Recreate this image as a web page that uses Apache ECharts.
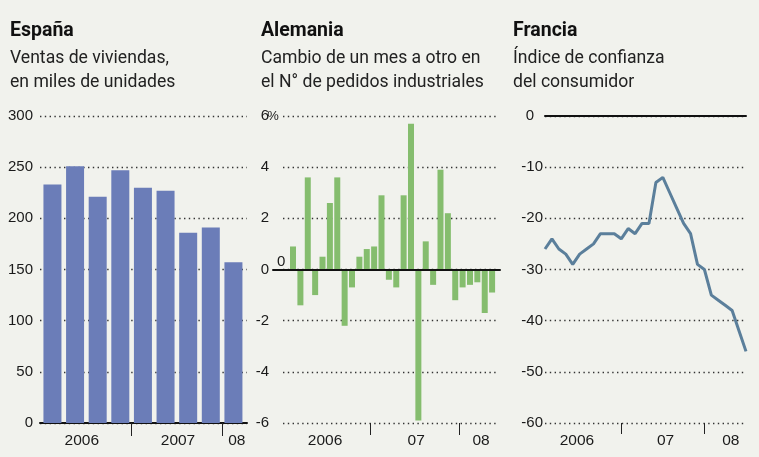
<!DOCTYPE html>
<html>
<head>
<meta charset="utf-8">
<script src="https://cdn.jsdelivr.net/npm/echarts@6/dist/echarts.min.js"></script>
<style>
  html, body { margin: 0; padding: 0; background: #f1f2ed; }
  #chart { width: 759px; height: 457px; }
</style>
</head>
<body>
<div id="chart"></div>
<script>
// España: ventas de viviendas por trimestre (miles)
const trimestres = ['2006-T1', '2006-T2', '2006-T3', '2006-T4', '2007-T1', '2007-T2', '2007-T3', '2007-T4', '2008-T1']
const ventasEspana = [233, 251, 221, 247, 230, 227, 186, 191, 157]

// Alemania: cambio mensual en pedidos industriales (%), feb 2006 - may 2008
const mesesAlemania = [
  '2006-02', '2006-03', '2006-04', '2006-05', '2006-06', '2006-07', '2006-08', '2006-09', '2006-10', '2006-11', '2006-12',
  '2007-01', '2007-02', '2007-03', '2007-04', '2007-05', '2007-06', '2007-07', '2007-08', '2007-09', '2007-10', '2007-11', '2007-12',
  '2008-01', '2008-02', '2008-03', '2008-04', '2008-05'
]
const pedidosAlemania = [0.9, -1.4, 3.6, -1.0, 0.5, 2.6, 3.6, -2.2, -0.7, 0.5, 0.8, 0.9, 2.9, -0.4, -0.7, 2.9, 5.7, -5.9, 1.1, -0.6, 3.9, 2.2, -1.2, -0.7, -0.6, -0.5, -1.7, -0.9]

// Francia: índice de confianza del consumidor, feb 2006 - jul 2008
const mesesFrancia = [
  '2006-02', '2006-03', '2006-04', '2006-05', '2006-06', '2006-07', '2006-08', '2006-09', '2006-10', '2006-11', '2006-12',
  '2007-01', '2007-02', '2007-03', '2007-04', '2007-05', '2007-06', '2007-07', '2007-08', '2007-09', '2007-10', '2007-11', '2007-12',
  '2008-01', '2008-02', '2008-03', '2008-04', '2008-05', '2008-06', '2008-07'
]
const confianzaFrancia = [-26, -24, -26, -27, -29, -27, -26, -25, -23, -23, -23, -24, -22, -23, -21, -21, -13, -12, -15, -18, -21, -23, -29, -30, -35, -36, -37, -38, -42, -46]

// etiquetas de años en el eje x
const etiquetasEspana = ['2006', '2007', '08']
const etiquetasAlemania = ['2006', '07', '08']
const etiquetasFrancia = ['2006', '07', '08']

const NUM = "'Liberation Sans', Arial, sans-serif"
const TEXTO = "Roboto, 'Noto Sans', sans-serif"
const INK = '#1a1a1a'

const dotted = { lineStyle: { color: '#333', width: 1.4, type: [1.4, 3.4] } }

function yearAxis(grid, min, max, ticks, labelPos, labels, tickLen) {
  return {
    gridIndex: grid,
    type: 'value',
    min: min,
    max: max,
    axisLine: { show: false, onZero: false },
    splitLine: { show: false },
    axisTick: {
      show: true,
      customValues: ticks,
      length: tickLen,
      lineStyle: { color: '#222', width: 1 }
    },
    axisLabel: {
      customValues: labelPos,
      formatter: v => labels[labelPos.indexOf(v)] || '',
      margin: 10,
      color: INK,
      fontFamily: NUM,
      fontSize: 15.5
    }
  }
}

function titulo(left, text, sub) {
  return {
    left: left,
    top: 19,
    padding: 0,
    itemGap: 4,
    text: text,
    subtext: sub,
    textStyle: { fontFamily: TEXTO, fontWeight: 'bold', fontSize: 19.5, color: '#111', lineHeight: 24 },
    subtextStyle: { fontFamily: TEXTO, fontSize: 17.6, color: '#222', lineHeight: 24 }
  }
}

const chart = echarts.init(document.getElementById('chart'))

chart.setOption({
  backgroundColor: '#f1f2ed',
  animation: false,
  title: [
    titulo(10, 'España', 'Ventas de viviendas,\nen miles de unidades'),
    titulo(261, 'Alemania', 'Cambio de un mes a otro en\nel N° de pedidos industriales'),
    titulo(513, 'Francia', 'Índice de confianza\ndel consumidor')
  ],
  grid: [
    { left: 40, top: 116, width: 207, height: 307 },   // España
    { left: 283, top: 116, width: 215, height: 307 },  // Alemania
    { left: 273, top: 116, width: 227, height: 307 },  // línea del cero de Alemania
    { left: 545, top: 116, width: 201, height: 307 }   // Francia
  ],
  xAxis: [
    Object.assign(yearAxis(0, -0.55, 8.6, [3.5, 7.5], [1.3, 5.55, 8.15], etiquetasEspana, 13), {
      axisLine: { show: true, onZero: false, lineStyle: { color: '#111', width: 2 } }
    }),
    yearAxis(1, -1.36, 27.8, [10.5, 22.5], [4.34, 16.7, 25.5], etiquetasAlemania, 12),
    {
      gridIndex: 2, type: 'value', min: 0, max: 1, z: 5,
      axisLine: { show: true, onZero: true, lineStyle: { color: '#111', width: 2 } },
      axisTick: { show: false }, axisLabel: { show: false }, splitLine: { show: false }
    },
    yearAxis(3, 0, 29, [11, 23], [4.6, 17.4, 26.8], etiquetasFrancia, 11),
    {
      gridIndex: 3, type: 'value', position: 'top', min: 0, max: 29, z: 5,
      axisLine: { show: true, onZero: false, lineStyle: { color: '#111', width: 2 } },
      axisTick: { show: false }, axisLabel: { show: false }, splitLine: { show: false }
    }
  ],
  yAxis: [
    {
      gridIndex: 0, type: 'value', min: 0, max: 300, interval: 50,
      axisLine: { show: false }, axisTick: { show: false },
      axisLabel: { margin: 7, color: INK, fontFamily: NUM, fontSize: 15 },
      splitLine: dotted
    },
    {
      gridIndex: 1, type: 'value', min: -6, max: 6, interval: 2,
      axisLine: { show: false }, axisTick: { show: false },
      axisLabel: {
        margin: 6,
        formatter: v => v === 6 ? '{n|6}{p|%}' : '{n|' + v + '}{p| }',
        rich: {
          n: { color: INK, fontFamily: NUM, fontSize: 15 },
          p: { color: INK, fontFamily: NUM, fontSize: 13, width: 8, align: 'left' }
        }
      },
      splitLine: dotted
    },
    {
      gridIndex: 2, type: 'value', min: -6, max: 6,
      axisLine: { show: false }, axisTick: { show: false }, splitLine: { show: false },
      axisLabel: {
        inside: true, customValues: [0], formatter: '0', margin: 4,
        verticalAlign: 'bottom', color: INK, fontFamily: NUM, fontSize: 15
      }
    },
    {
      gridIndex: 3, type: 'value', min: -60, max: 0, interval: 10,
      axisLine: { show: false }, axisTick: { show: false },
      axisLabel: {
        margin: 2,
        formatter: v => v === 0 ? '{n|0}{s| }' : '{n|' + v + '}',
        rich: {
          n: { color: INK, fontFamily: NUM, fontSize: 15 },
          s: { fontSize: 15, width: 9 }
        }
      },
      splitLine: dotted
    }
  ],
  series: [
    {
      name: 'Ventas de viviendas',
      type: 'bar',
      xAxisIndex: 0, yAxisIndex: 0,
      barWidth: 18,
      itemStyle: { color: '#6b7db8' },
      data: ventasEspana.map((v, i) => [i, v])
    },
    {
      name: 'Pedidos industriales',
      type: 'bar',
      xAxisIndex: 1, yAxisIndex: 1,
      barWidth: 6,
      itemStyle: { color: '#85bd6e' },
      data: pedidosAlemania.map((v, i) => [i, v])
    },
    {
      name: 'Confianza del consumidor',
      type: 'line',
      xAxisIndex: 3, yAxisIndex: 3,
      symbol: 'none',
      lineStyle: { color: '#5b7f9b', width: 3 },
      data: confianzaFrancia.map((v, i) => [i, v])
    }
  ]
})
</script>
</body>
</html>
